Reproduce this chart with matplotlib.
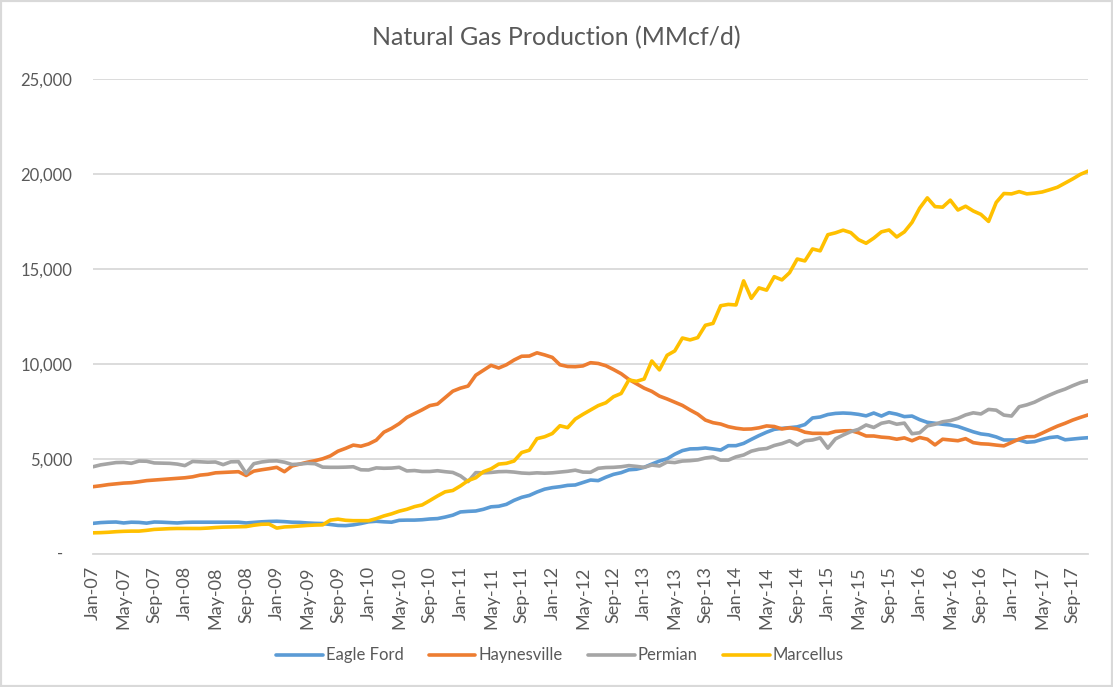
import numpy as np
import pandas as pd
import matplotlib
matplotlib.use('Agg')
import matplotlib.pyplot as plt
from matplotlib.patches import Rectangle
from matplotlib.transforms import blended_transform_factory

plt.rcParams['font.family'] = ['Lato', 'DejaVu Sans']

# monthly production, Jan-07 .. Nov-17 (MMcf/d)
months = pd.date_range('2007-01-01', periods=131, freq='MS')

eagle_ford = [
    1600, 1640, 1660, 1670, 1620, 1660, 1650, 1610, 1670, 1660, 1640, 1620,
    1650, 1660, 1660, 1660, 1660, 1660, 1660, 1660, 1620, 1650, 1680, 1700,
    1710, 1690, 1660, 1650, 1620, 1600, 1590, 1540, 1490, 1480, 1520, 1590,
    1680, 1710, 1680, 1660, 1760, 1770, 1770, 1790, 1830, 1850, 1930, 2030,
    2200, 2230, 2250, 2340, 2470, 2500, 2600, 2810, 2970, 3070, 3250, 3400,
    3480, 3530, 3600, 3620, 3750, 3880, 3850, 4030, 4180, 4270, 4420, 4450,
    4550, 4720, 4880, 5000, 5240, 5430, 5520, 5530, 5570, 5520, 5460, 5690,
    5690, 5810, 6020, 6220, 6400, 6550, 6600, 6640, 6680, 6800, 7150, 7200,
    7330, 7390, 7410, 7390, 7340, 7260, 7410, 7250, 7430, 7350, 7220, 7250,
    7060, 6920, 6870, 6820, 6780, 6700, 6560, 6420, 6310, 6260, 6150, 5990,
    5990, 5990, 5870, 5900, 6020, 6120, 6160, 6000, 6040, 6080, 6110,
]

haynesville = [
    3530, 3580, 3640, 3680, 3720, 3740, 3790, 3850, 3880, 3910, 3940, 3970,
    4000, 4050, 4140, 4180, 4260, 4280, 4300, 4320, 4120, 4350, 4420, 4480,
    4550, 4320, 4620, 4720, 4820, 4900, 5000, 5150, 5400, 5550, 5720, 5660,
    5780, 5980, 6400, 6600, 6850, 7180, 7380, 7580, 7800, 7880, 8220, 8560,
    8720, 8830, 9400, 9660, 9920, 9780, 9950, 10200, 10400, 10410, 10580, 10470,
    10340, 9950, 9860, 9850, 9890, 10060, 10020, 9900, 9700, 9480, 9180, 8950,
    8720, 8550, 8300, 8150, 7980, 7810, 7570, 7350, 7040, 6900, 6830, 6690,
    6610, 6560, 6570, 6630, 6730, 6700, 6570, 6630, 6560, 6400, 6340, 6340,
    6330, 6440, 6470, 6480, 6370, 6200, 6200, 6140, 6110, 6030, 6100, 5950,
    6120, 6030, 5730, 6030, 5990, 5950, 6060, 5850, 5790, 5770, 5720, 5680,
    5860, 6040, 6160, 6170, 6350, 6540, 6720, 6870, 7040, 7180, 7310,
]

permian = [
    4580, 4680, 4740, 4800, 4810, 4760, 4880, 4870, 4780, 4770, 4760, 4720,
    4640, 4860, 4840, 4820, 4830, 4690, 4840, 4850, 4230, 4740, 4830, 4880,
    4890, 4820, 4700, 4720, 4760, 4740, 4560, 4550, 4550, 4560, 4580, 4420,
    4410, 4520, 4500, 4510, 4550, 4360, 4380, 4330, 4330, 4370, 4320, 4280,
    4100, 3800, 4270, 4260, 4280, 4320, 4330, 4300, 4250, 4230, 4260, 4240,
    4260, 4300, 4340, 4400, 4300, 4290, 4500, 4540, 4550, 4580, 4640, 4600,
    4550, 4670, 4620, 4830, 4800, 4880, 4900, 4940, 5040, 5100, 4930, 4930,
    5100, 5200, 5400, 5500, 5540, 5700, 5800, 5950, 5720, 5950, 5990, 6100,
    5560, 6050, 6250, 6430, 6550, 6780, 6650, 6870, 6950, 6820, 6880, 6320,
    6370, 6730, 6820, 6950, 7010, 7130, 7310, 7420, 7360, 7600, 7560, 7300,
    7250, 7740, 7840, 7980, 8180, 8360, 8530, 8670, 8850, 9010, 9110,
]

marcellus = [
    1100, 1110, 1130, 1160, 1180, 1190, 1190, 1230, 1280, 1300, 1320, 1330,
    1330, 1330, 1330, 1350, 1380, 1400, 1410, 1420, 1430, 1500, 1550, 1560,
    1350, 1410, 1430, 1460, 1490, 1510, 1520, 1770, 1820, 1760, 1740, 1740,
    1740, 1850, 1990, 2100, 2240, 2340, 2480, 2570, 2800, 3040, 3260, 3330,
    3570, 3850, 4000, 4320, 4470, 4720, 4760, 4880, 5330, 5450, 6060, 6160,
    6330, 6740, 6640, 7090, 7340, 7570, 7800, 7950, 8270, 8440, 9150, 9080,
    9200, 10150, 9680, 10450, 10680, 11360, 11260, 11380, 12030, 12130, 13060, 13130,
    13100, 14370, 13450, 14000, 13880, 14590, 14420, 14800, 15520, 15420, 16050, 15950,
    16800, 16900, 17040, 16910, 16540, 16350, 16620, 16950, 17050, 16680, 16950, 17450,
    18200, 18740, 18280, 18250, 18620, 18100, 18300, 18050, 17870, 17500, 18500, 18970,
    18950, 19070, 18950, 18990, 19050, 19170, 19300, 19520, 19740, 19980, 20150,
]

series_names = ['Eagle Ford', 'Haynesville', 'Permian', 'Marcellus']
series_colors = ['#5B9BD5', '#ED7D31', '#A5A5A5', '#FFC000']
y_ticks = [0, 5000, 10000, 15000, 20000, 25000]

text_color = '#595959'
grid_color = '#D9D9D9'

fig = plt.figure(figsize=(11.13, 6.87), dpi=100)
ax = fig.add_axes([0.0836, 0.194, 0.894, 0.691])

x = np.arange(len(months))
for vals, name, col in zip([eagle_ford, haynesville, permian, marcellus], series_names, series_colors):
    ax.plot(x, vals, color=col, lw=2.6, label=name,
            solid_capstyle='round', solid_joinstyle='round')

ax.set_xlim(0, len(months) - 1)
ax.set_ylim(0, 25000)

# y axis
ax.set_yticks(y_ticks)
ax.set_yticklabels(['' if v == 0 else f'{v:,}' for v in y_ticks])
ax.text(-0.033, 0, '-', transform=blended_transform_factory(ax.transAxes, ax.transData),
        ha='center', va='center', fontsize=12, color=text_color)
ax.yaxis.grid(True, color=grid_color, lw=1.3)
ax.set_axisbelow(True)

# x axis: every 4th month
tick_idx = x[::4]
ax.set_xticks(tick_idx)
ax.set_xticklabels([months[i].strftime('%b-%y') for i in tick_idx], rotation=90)

ax.tick_params(axis='both', length=0, labelcolor=text_color)
ax.tick_params(axis='y', pad=15, labelsize=12)
ax.tick_params(axis='x', pad=9, labelsize=13)

for s in ['top', 'right', 'left']:
    ax.spines[s].set_visible(False)
ax.spines['bottom'].set_color(grid_color)
ax.spines['bottom'].set_linewidth(1.3)

fig.suptitle('Natural Gas Production (MMcf/d)', x=0.5, y=0.962, fontsize=18,
             color=text_color)

fig.legend(loc='center', bbox_to_anchor=(0.503, 0.046), ncol=4, frameon=False,
           fontsize=12, handlelength=2.8, handletextpad=0.2, columnspacing=1.5,
           labelcolor=text_color)

# chart border
fig.patches.append(Rectangle((0, 0), 1, 1, transform=fig.transFigure, fill=False,
                             edgecolor=grid_color, lw=3))

fig.savefig('out.png', dpi=100)
